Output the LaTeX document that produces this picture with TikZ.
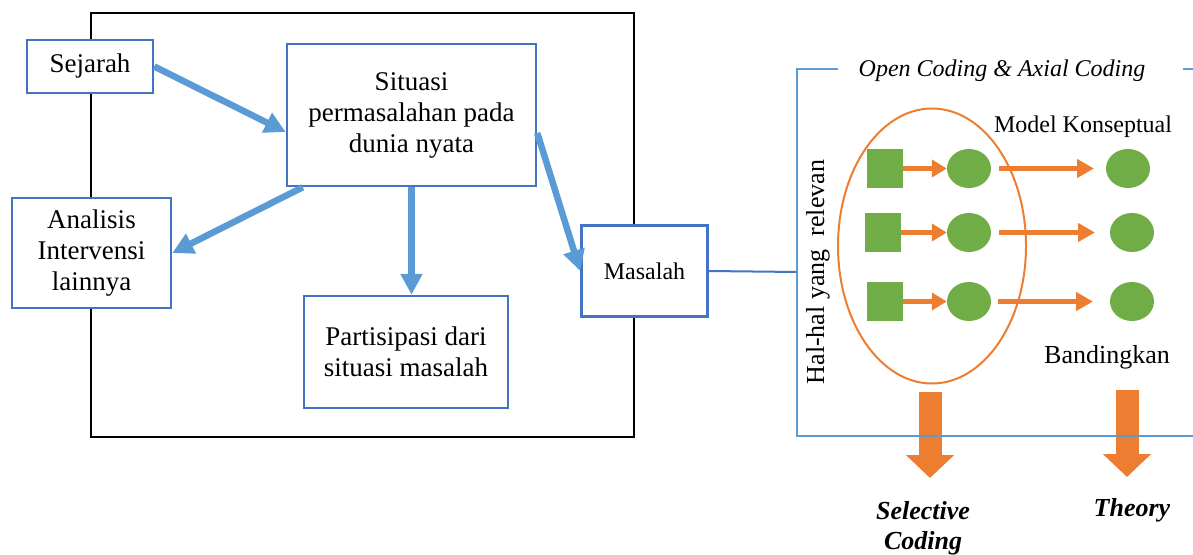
\documentclass[tikz,border=0pt]{standalone}
\usepackage{fontspec}
\setmainfont{Liberation Serif}
\usetikzlibrary{arrows.meta,shapes.geometric,calc}
\definecolor{boxblue}{HTML}{4472C4}
\definecolor{arrblue}{HTML}{5B9BD5}
\definecolor{orng}{HTML}{ED7D31}
\definecolor{grn}{HTML}{70AD47}
\tikzset{
  bluebox/.style={draw=boxblue,line width=2.5pt,fill=white,align=center,inner sep=0pt,
    font=\fontsize{27}{31}\selectfont},
  bluearrow/.style={draw=arrblue,line width=6.5pt,-{Triangle[length=21pt,width=21pt]}},
  frame/.style={draw=black,line width=1.2pt},
  panel/.style={draw=arrblue,line width=2pt},
  greensq/.style={fill=grn,minimum width=36pt,minimum height=39pt,inner sep=0pt},
  greendot/.style={fill=grn,ellipse,minimum width=44pt,minimum height=39pt,inner sep=0pt},
  smallorange/.style={draw=orng,line width=5pt,-{Triangle[length=15pt,width=17pt]}},
  longorange/.style={draw=orng,line width=5.5pt,-{Triangle[length=17pt,width=18pt]}},
  bigorange/.style={draw=orng,line width=23pt,-{Triangle[length=23pt,width=47pt]}},
  lbl/.style={inner sep=0pt,font=\fontsize{25}{30}\selectfont},
  bilbl/.style={inner sep=0pt,align=center,font=\fontsize{26}{30}\selectfont\bfseries\itshape},
}
\begin{document}
\begin{tikzpicture}[x=1pt,y=-1pt]
\useasboundingbox (0,0) rectangle (1193,554);
% black frame
\draw[frame] (91,13) rectangle (634,437);
% boxes
\node[bluebox,minimum width=126pt,minimum height=53pt] (sej) at (90,66.5) {Sejarah};
\node[bluebox,minimum width=249pt,minimum height=142pt] (sit) at (411.5,115) {Situasi\\permasalahan pada\\dunia nyata};
\node[bluebox,minimum width=159pt,minimum height=110pt] (ana) at (91.5,253) {Analisis\\Intervensi\\lainnya};
\node[bluebox,minimum width=204pt,minimum height=112pt] (par) at (406,352) {Partisipasi dari\\situasi masalah};
\node[bluebox,minimum width=126pt,minimum height=91pt,font=\fontsize{24}{29}\selectfont] (mas) at (644.5,271) {Masalah};
% blue arrows
\draw[bluearrow] (sej.east) -- ($(sit.west)+(0,17)$);
\draw[bluearrow] ($(sit.south west)+(17,0)$) -- (ana.east);
\draw[bluearrow] (sit.south) -- (sit.south |- par.north);
\draw[bluearrow] ($(sit.east)+(0,18)$) -- (mas.west);
% right panel
\coordinate (pl) at (797,272);
\draw[boxblue,line width=2pt] (mas.east) -- (pl);
% big orange arrows (under panel line)
\coordinate (sa) at (930,392);
\coordinate (sb) at (930,478);
\coordinate (ta) at (1127,390);
\coordinate (tb) at (1127,477);
\draw[bigorange] (sa) -- (sb);
\draw[bigorange] (ta) -- (tb);
\draw[panel] (838,69) -- (797,69) -- (797,436) -- (1193,436);
\draw[panel] (1183,69) -- (1193,69);
\node[inner sep=0pt,font=\fontsize{24}{28}\selectfont\itshape] (title) at (1002,71) {Open Coding \& Axial Coding};
% ellipse
\draw[orng,line width=2pt] (932,246) ellipse [x radius=94, y radius=137.5];
% rows
\node[greensq] (s1) at (885,168.5) {};
\node[greensq] (s2) at (883,232.5) {};
\node[greensq] (s3) at (885,301.5) {};
\node[greendot] (c1) at (969,168.5) {};
\node[greendot] (c2) at (969,232.5) {};
\node[greendot] (c3) at (969,301.5) {};
\node[greendot] (d1) at (1128,168.5) {};
\node[greendot] (d2) at (1132,232.5) {};
\node[greendot] (d3) at (1132,301.5) {};
\draw[smallorange] (s1.east) -- (c1.west);
\draw[smallorange] (s2.east) -- (c2.west);
\draw[smallorange] (s3.east) -- (c3.west);
\coordinate (e1) at (999,168.5);
\coordinate (e2) at (999,232.5);
\coordinate (e3) at (998,301.5);
\draw[longorange] (e1) -- (1094,168.5);
\draw[longorange] (e2) -- (1095,232.5);
\draw[longorange] (e3) -- (1093,301.5);
% labels
\node[lbl,font=\fontsize{24}{28}\selectfont] (mk) at (1083,127) {Model Konseptual};
\node[lbl,font=\fontsize{26}{30}\selectfont] (bd) at (1107,357) {Bandingkan};
\node[lbl,font=\fontsize{26}{30}\selectfont,rotate=90] (hal) at (818,272) {Hal-hal yang\ \ relevan};
\node[bilbl] (sc) at (923,528) {Selective\\Coding};
\node[bilbl] (th) at (1132,510) {Theory};
\end{tikzpicture}
\end{document}
